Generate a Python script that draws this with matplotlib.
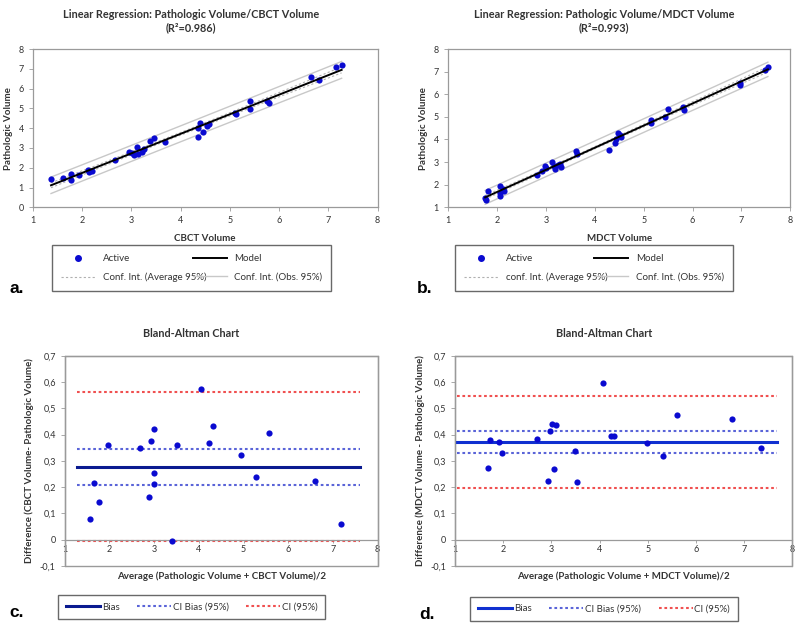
import matplotlib
matplotlib.use("Agg")
import matplotlib.pyplot as plt
import numpy as np
from matplotlib.lines import Line2D
from matplotlib.ticker import FuncFormatter

plt.rcParams['font.family'] = ['Lato', 'DejaVu Sans']
plt.rcParams['font.size'] = 7

# Regression: CBCT vs pathologic volume
cbct_x = [1.37, 1.62, 1.77, 1.78, 1.93, 2.13, 2.15, 2.21, 2.67, 2.96, 3.01, 3.06,
          3.12, 3.14, 3.21, 3.25, 3.38, 3.46, 3.68, 4.35, 4.36, 4.40, 4.46, 4.54,
          4.58, 5.10, 5.12, 5.41, 5.41, 5.75, 5.79, 6.64, 6.81, 7.15, 7.27]
cbct_y = [1.44, 1.49, 1.69, 1.39, 1.64, 1.90, 1.76, 1.86, 2.41, 2.78, 2.75, 2.63,
          3.05, 2.71, 2.80, 2.95, 3.36, 3.49, 3.31, 3.56, 4.00, 4.25, 3.81, 4.10,
          4.20, 4.78, 4.71, 5.36, 4.98, 5.39, 5.25, 6.58, 6.44, 7.08, 7.20]

# Regression: MDCT vs pathologic volume
mdct_x = [1.76, 1.78, 1.82, 2.06, 2.06, 2.07, 2.12, 2.14, 2.82, 2.92, 2.99, 3.00,
          3.12, 3.16, 3.19, 3.24, 3.28, 3.32, 3.62, 3.64, 4.30, 4.41, 4.44, 4.47,
          4.51, 4.54, 5.14, 5.16, 5.43, 5.50, 5.80, 5.83, 6.96, 6.96, 7.48, 7.54]
mdct_y = [1.42, 1.33, 1.71, 1.62, 1.49, 1.93, 1.82, 1.74, 2.44, 2.60, 2.84, 2.74,
          2.99, 2.81, 2.71, 2.88, 2.93, 2.78, 3.49, 3.34, 3.55, 3.85, 4.01, 4.29,
          4.19, 4.09, 4.75, 4.86, 4.98, 5.35, 5.45, 5.30, 6.49, 6.42, 7.08, 7.19]

# Bland-Altman: CBCT
ba_c_avg = [1.57, 1.66, 1.77, 1.97, 2.68, 2.88, 2.93, 2.99, 2.99, 2.99, 3.50, 3.40,
            4.05, 4.23, 4.31, 4.94, 5.28, 5.56, 6.61, 7.17]
ba_c_diff = [0.079, 0.215, 0.142, 0.359, 0.350, 0.161, 0.374, 0.423, 0.253, 0.213,
             0.359, -0.006, 0.575, 0.368, 0.433, 0.321, 0.239, 0.408, 0.224, 0.060]
ba_c_bias = 0.277
ba_c_cibias = [0.208, 0.346]
ba_c_ci = [-0.004, 0.562]
ba_c_span = [1.28, 7.6]

# Bland-Altman: MDCT
ba_d_avg = [1.68, 1.73, 1.91, 1.97, 2.71, 2.92, 2.97, 3.02, 3.05, 3.10, 3.50, 3.53,
            4.07, 4.24, 4.31, 4.98, 5.32, 5.61, 6.75, 7.35]
ba_d_diff = [0.272, 0.378, 0.373, 0.330, 0.383, 0.224, 0.413, 0.442, 0.267, 0.437,
             0.338, 0.218, 0.596, 0.393, 0.393, 0.368, 0.317, 0.475, 0.460, 0.349]
ba_d_bias = 0.370
ba_d_cibias = [0.329, 0.412]
ba_d_ci = [0.196, 0.546]
ba_d_span = [1.03, 7.69]

DOT = '#0a0ad0'
GRID_C = '#9a9a9a'
TXT = '#333333'


def comma(v, pos):
    s = '%g' % round(v, 2)
    return s.replace('.', ',')


def style_box(ax):
    for sp in ax.spines.values():
        sp.set_color(GRID_C)
        sp.set_linewidth(0.9)
    ax.tick_params(length=3, width=0.6, color=GRID_C, labelcolor=TXT, labelsize=6.5)


def regression(ax, x, y, xlim, ylim, title, xlabel, title_x):
    x = np.array(x)
    y = np.array(y)
    n = len(x)
    b, a = np.polyfit(x, y, 1)
    resid = y - (a + b * x)
    s = np.sqrt(np.sum(resid ** 2) / (n - 2))
    t = 2.03
    xs = np.linspace(x.min(), x.max(), 100)
    ys = a + b * xs
    sxx = np.sum((x - x.mean()) ** 2)
    mean_ci = t * s * np.sqrt(1 / n + (xs - x.mean()) ** 2 / sxx)
    obs_ci = t * s * np.sqrt(1 + 1 / n + (xs - x.mean()) ** 2 / sxx)
    ax.plot(xs, ys + obs_ci, color='#c8c8c8', lw=1.0)
    ax.plot(xs, ys - obs_ci, color='#c8c8c8', lw=1.0)
    ax.plot(xs, ys + mean_ci, color='#b0b0b0', lw=0.8, ls=(0, (2, 2)))
    ax.plot(xs, ys - mean_ci, color='#b0b0b0', lw=0.8, ls=(0, (2, 2)))
    ax.scatter(x, y, s=20, color=DOT, zorder=3, linewidths=0)
    ax.plot(xs, ys, color='black', lw=1.4, zorder=4)
    ax.set_xlim(*xlim)
    ax.set_ylim(*ylim)
    ax.set_xticks(range(xlim[0], xlim[1] + 1))
    ax.set_yticks(range(ylim[0], ylim[1] + 1))
    ax.set_title(title, fontsize=7.8, fontweight='bold', color=TXT, pad=13)
    ax.title.set_x(title_x)
    ax.set_xlabel(xlabel, fontsize=7, fontweight='bold', color=TXT, labelpad=6)
    ax.set_ylabel('Pathologic Volume', fontsize=7, fontweight='bold', color=TXT)
    style_box(ax)


def bland(ax, avg, diff, bias, cibias, ci, span, bias_color, xlabel, ylabel, title_x):
    ax.plot(span, [ci[0]] * 2, color='#f05050', lw=1.5, ls=(0, (1.3, 1.3)))
    ax.plot(span, [ci[1]] * 2, color='#f05050', lw=1.5, ls=(0, (1.3, 1.3)))
    ax.plot(span, [cibias[0]] * 2, color='#5a64d8', lw=1.5, ls=(0, (1.3, 1.3)))
    ax.plot(span, [cibias[1]] * 2, color='#5a64d8', lw=1.5, ls=(0, (1.3, 1.3)))
    ax.plot(span, [bias] * 2, color=bias_color, lw=2.2)
    ax.scatter(avg, diff, s=20, color=DOT, zorder=3, linewidths=0)
    ax.set_xlim(1, 8)
    ax.set_ylim(-0.1, 0.7)
    ax.set_xticks(range(1, 9))
    ax.set_yticks(np.arange(-0.1, 0.71, 0.1))
    ax.yaxis.set_major_formatter(FuncFormatter(comma))
    style_box(ax)
    ax.spines['bottom'].set_position(('data', 0))
    ax.patch.set_edgecolor(GRID_C)
    ax.patch.set_linewidth(1.0)
    ax.tick_params(axis='x', length=2, pad=2)
    ax.set_title('Bland-Altman Chart', fontsize=7.8, fontweight='bold', color=TXT, pad=14)
    ax.title.set_x(title_x)
    ax.set_xlabel(xlabel, fontsize=7, fontweight='bold', color=TXT)
    ax.xaxis.set_label_coords(0.5, -0.025)
    ax.set_ylabel(ylabel, fontsize=7, fontweight='bold', color=TXT)


fig = plt.figure(figsize=(8, 6.3), dpi=100)
ax_a = fig.add_axes([0.041, 0.671, 0.431, 0.251])
ax_b = fig.add_axes([0.560, 0.671, 0.428, 0.251])
ax_c = fig.add_axes([0.081, 0.102, 0.391, 0.333])
ax_d = fig.add_axes([0.569, 0.102, 0.421, 0.333])

regression(ax_a, cbct_x, cbct_y, (1, 8), (0, 8),
           'Linear Regression: Pathologic Volume/CBCT Volume\n(R²=0.986)', 'CBCT Volume', 0.458)
regression(ax_b, mdct_x, mdct_y, (1, 8), (1, 8),
           'Linear Regression: Pathologic Volume/MDCT Volume\n(R²=0.993)', 'MDCT Volume', 0.456)
bland(ax_c, ba_c_avg, ba_c_diff, ba_c_bias, ba_c_cibias, ba_c_ci, ba_c_span, '#0a1a90',
      'Average (Pathologic Volume + CBCT Volume)/2',
      'Difference (CBCT Volume- Pathologic Volume)', 0.405)
bland(ax_d, ba_d_avg, ba_d_diff, ba_d_bias, ba_d_cibias, ba_d_ci, ba_d_span, '#1030d0',
      'Average (Pathologic Volume + MDCT Volume)/2',
      'Difference (MDCT Volume - Pathologic Volume)', 0.442)


def reg_legend(box, conf_label):
    h = [Line2D([], [], marker='o', ls='none', color=DOT, markersize=4),
         Line2D([], [], color='#b0b0b0', lw=0.8, ls=(0, (2, 2))),
         Line2D([], [], color='black', lw=1.4),
         Line2D([], [], color='#c8c8c8', lw=1.0)]
    labels = ['Active', conf_label, 'Model', 'Conf. Int. (Obs. 95%)']
    leg = fig.legend(h, labels, ncol=2, loc='center', bbox_to_anchor=box, mode='expand',
                     fontsize=7, frameon=True, fancybox=False, edgecolor='#444444',
                     handlelength=3.5, borderaxespad=0, labelcolor=TXT,
                     borderpad=0.9, labelspacing=1.0)
    leg.get_frame().set_linewidth(1.0)


def ba_legend(box, bias_color):
    h = [Line2D([], [], color=bias_color, lw=2.2),
         Line2D([], [], color='#5a64d8', lw=1.5, ls=(0, (1.3, 1.3))),
         Line2D([], [], color='#f05050', lw=1.5, ls=(0, (1.3, 1.3)))]
    labels = ['Bias', 'CI Bias (95%)', 'CI (95%)']
    leg = fig.legend(h, labels, ncol=3, loc='center', bbox_to_anchor=box, mode='expand',
                     fontsize=7, frameon=True, fancybox=False, edgecolor='#444444',
                     handlelength=3.5, handletextpad=0.2, borderaxespad=0, labelcolor=TXT,
                     borderpad=0.8)
    leg.get_frame().set_linewidth(1.0)


reg_legend((0.065, 0.535, 0.349, 0.079), 'Conf. Int. (Average 95%)')
reg_legend((0.569, 0.535, 0.347, 0.079), 'conf. Int. (Average 95%)')
ba_legend((0.0725, 0.016, 0.334, 0.041), '#0a1a90')
ba_legend((0.5875, 0.016, 0.335, 0.035), '#1030d0')

for lab, x, y in [('a.', 0.012, 0.535), ('b.', 0.521, 0.535), ('c.', 0.012, 0.02), ('d.', 0.524, 0.018)]:
    fig.text(x, y, lab, fontsize=12.5, fontweight='bold', family='Liberation Sans')

fig.savefig('out.png', dpi=100)
